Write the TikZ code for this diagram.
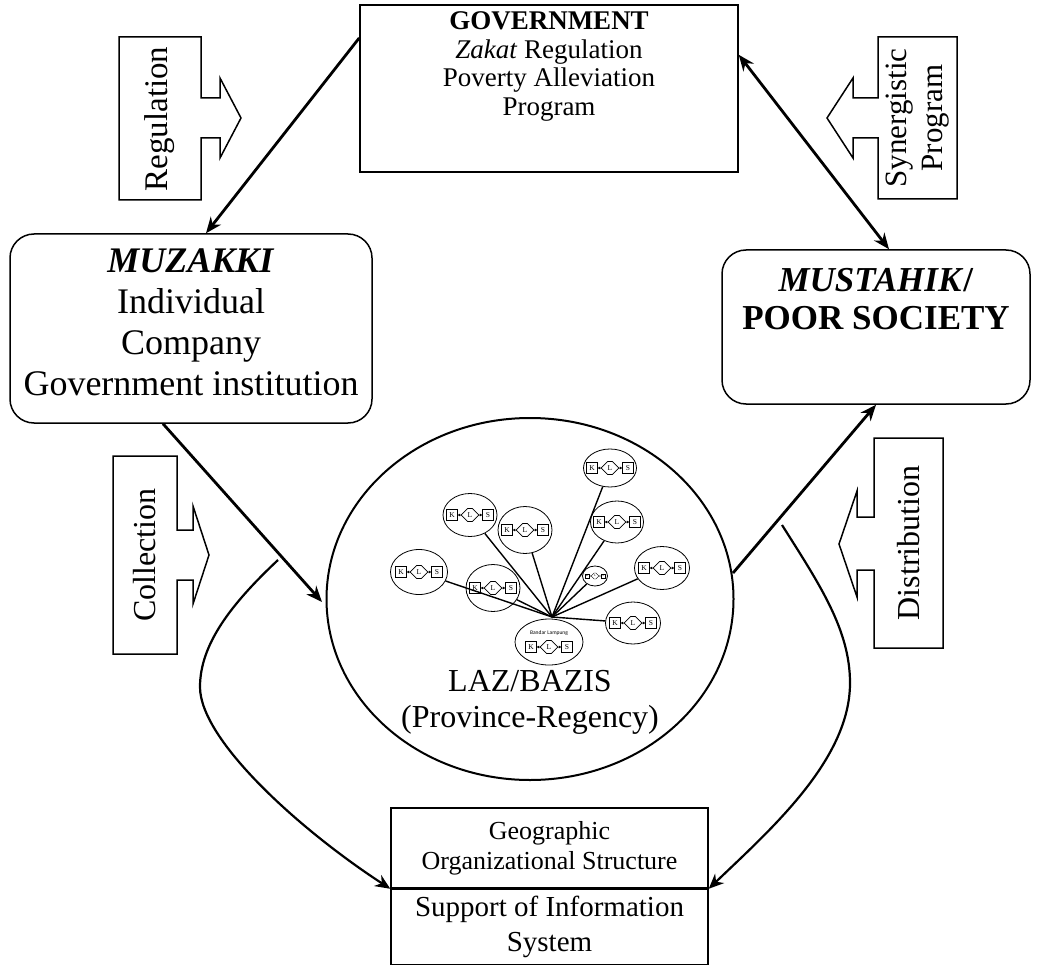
\documentclass[tikz,border=0pt]{standalone}
\usepackage{fontspec}
\setmainfont{Liberation Serif}
\newfontfamily\calibfont{Carlito}
\usetikzlibrary{shapes.geometric,shapes.symbols,arrows.meta,calc}
\newcommand\klsinner{%
  \node[klsbox] (-k) at (-18,0) {K};
  \node[klshex] (-l) at (0,0) {L};
  \node[klsbox] (-s) at (18,0) {S};
  \draw[klslink] (-l) -- (-k);
  \draw[klslink] (-l) -- (-s);
}
\tikzset{
  klsbox/.style={draw, line width=0.7pt, minimum size=10.5pt, inner sep=0pt, font=\fontsize{7.5}{7.5}\selectfont},
  klshex/.style={draw, line width=0.7pt, shape=signal, signal to=east and west, minimum width=17pt, minimum height=13pt, inner sep=0pt, font=\fontsize{7.5}{7.5}\selectfont},
  klslink/.style={line width=1pt, -{Latex[length=2.5pt,width=3pt]}},
  klsell/.style={draw, ellipse, line width=0.8pt, inner sep=0pt},
  pics/kls/.style 2 args={code={
     \node[klsell, minimum width=#1pt, minimum height=#2pt] (-e) at (0,0) {};
     \klsinner}},
  pics/klsbl/.style={code={
     \node[klsell, minimum width=68pt, minimum height=46pt] (-e) at (0,0) {};
     \node[font=\calibfont\fontsize{5.5}{6}\selectfont, inner sep=0pt] (-t) at (0,-9) {Bandar Lampung};
     \begin{scope}[shift={(0,5)}]\klsinner\end{scope}}},
  pics/klstiny/.style={code={
     \node[klsell, minimum width=25pt, minimum height=20pt] (-e) at (0,0) {};
     \node[draw, line width=0.4pt, minimum size=4.5pt, inner sep=0pt, font=\fontsize{3}{3}\selectfont] (-k) at (-8,0) {K};
     \node[draw, line width=0.4pt, shape=signal, signal to=east and west, minimum width=7.5pt, minimum height=6pt, inner sep=0pt, font=\fontsize{3}{3}\selectfont] (-l) at (0,0) {L};
     \node[draw, line width=0.4pt, minimum size=4.5pt, inner sep=0pt, font=\fontsize{3}{3}\selectfont] (-s) at (8,0) {S};
     \draw[line width=0.6pt] (-l) -- (-k);
     \draw[line width=0.6pt] (-l) -- (-s);}},
  framebox/.style={draw, line width=1.5pt, align=center, inner sep=0pt},
  bigtext/.style={font=\fontsize{32}{36}\selectfont},
  callout/.style={draw, line width=1.5pt, line join=miter},
  conn/.style={line width=2.8pt, -{Stealth[length=16pt,width=13pt]}},
  conntwo/.style={line width=2.8pt, {Stealth[length=16pt,width=13pt]}-{Stealth[length=16pt,width=13pt]}},
  loopline/.style={line width=2.2pt, -{Stealth[length=15pt,width=13pt]}},
  hubline/.style={line width=1.4pt},
}
\begin{document}
\begin{tikzpicture}[x=1pt,y=-1pt]
\fill[white] (0,0) rectangle (1040,965);
\useasboundingbox (0,0) rectangle (1040,965);

% Government
\node[framebox, minimum width=378pt, minimum height=167pt] (gov) at (549,88.5) {};
\node[anchor=north, align=center, font=\fontsize{27}{28.5}\selectfont] (govt) at ([yshift=-4pt]gov.north) {\textbf{GOVERNMENT}\\\textit{Zakat} Regulation\\Poverty Alleviation\\Program};

% Muzakki
\node[framebox, rounded corners=24pt, minimum width=362pt, minimum height=189pt] (muz) at (191,328.5) {};
\node[align=center, font=\fontsize{36}{41}\selectfont] (muzt) at (191,322) {\textbf{\textit{MUZAKKI}}\\Individual\\Company\\Government institution};

% Mustahik
\node[framebox, rounded corners=24pt, minimum width=308pt, minimum height=154pt] (mus) at (876,327) {};
\node[align=center, font=\fontsize{35}{38}\selectfont] (must) at (876,299) {\textbf{\textit{MUSTAHIK}/}\\\textbf{POOR SOCIETY}};

% LAZ/BAZIS
\node[draw, ellipse, line width=2pt, minimum width=407pt, minimum height=362pt, inner sep=0pt] (laz) at (530,599) {};
\node[align=center, bigtext] (lazt) at (530,702) {LAZ/BAZIS\\(Province-Regency)};

% bottom boxes
\node[framebox, minimum width=317pt, minimum height=80pt, font=\fontsize{26}{30}\selectfont] (geo) at (549.5,848) {Geographic\\Organizational Structure};
\node[framebox, minimum width=317pt, minimum height=75pt, anchor=north, font=\fontsize{29}{35}\selectfont] (sup) at (geo.south) {Support of Information\\System};

% callout arrows
\draw[callout] (119,37) -- (201,37) -- (201,98) -- (220,98) -- (220,78) -- (241,118) -- (220,158) -- (220,138) -- (201,138) -- (201,200) -- (119,200) -- cycle;
\node[rotate=90, font=\fontsize{33}{36}\selectfont] (regt) at (160,119) {Regulation};

\draw[callout] (957,37) -- (878,37) -- (878,98) -- (853,98) -- (853,78) -- (827,118) -- (853,158) -- (853,138) -- (878,138) -- (878,199) -- (957,199) -- cycle;
\node[rotate=90, align=center, font=\fontsize{31}{36}\selectfont] (synt) at (918,118) {Synergistic\\Program};

\draw[callout] (113,456) -- (177,456) -- (177,530) -- (193,530) -- (193,506) -- (209,555) -- (193,604) -- (193,580) -- (177,580) -- (177,654) -- (113,654) -- cycle;
\node[rotate=90, bigtext] (colt) at (145,555) {Collection};

\draw[callout] (943,438) -- (874,438) -- (874,517) -- (857,517) -- (857,491) -- (839,544) -- (857,597) -- (857,570) -- (874,570) -- (874,648) -- (943,648) -- cycle;
\node[rotate=90, bigtext] (dist) at (908.5,543) {Distribution};

% main connectors
\coordinate (govW) at ($(gov.north west)!0.2!(gov.south west)$);
\coordinate (muzN) at ([xshift=15pt]muz.north);
\draw[conn] (govW) -- (muzN);

\coordinate (govE) at ($(gov.north east)!0.3!(gov.south east)$);
\coordinate (musN) at ([xshift=13pt]mus.north);
\draw[conntwo] (govE) -- (musN);

\coordinate (muzS) at ([xshift=-28pt]muz.south);
\coordinate (lazW) at (322,602);
\draw[conn] (muzS) -- (lazW);

\coordinate (lazE) at (733,573);
\draw[conn] (lazE) -- (mus.south);

% loops
\coordinate (lA) at (278,560);
\draw[loopline] (lA) .. controls (230,605) and (200,645) .. (200,687) .. controls (200,740) and (300,830) .. (geo.south west);
\coordinate (rA) at (782,525);
\draw[loopline] (rA) .. controls (820,585) and (850,630) .. (850,683) .. controls (850,760) and (770,830) .. (geo.south east);

% network inside
\pic (a) at (610,468) {kls={53}{38}};
\pic (b) at (470,515) {kls={54}{43}};
\pic (c) at (525,530) {kls={54}{47}};
\pic (d) at (617,522) {kls={53}{42}};
\pic (e) at (419,572) {kls={57}{45}};
\pic (f) at (493,588) {kls={54}{47}};
\pic (g) at (595,576) {klstiny};
\pic (h) at (662,568) {kls={55}{43}};
\pic (i) at (633,623) {kls={55}{42}};
\pic (j) at (549,642) {klsbl};
\coordinate (hub) at (552,617);
\foreach \n in {a,b,c,d,e,f,g,h,i} \draw[hubline] (hub) -- (\n-e);
\end{tikzpicture}
\end{document}
